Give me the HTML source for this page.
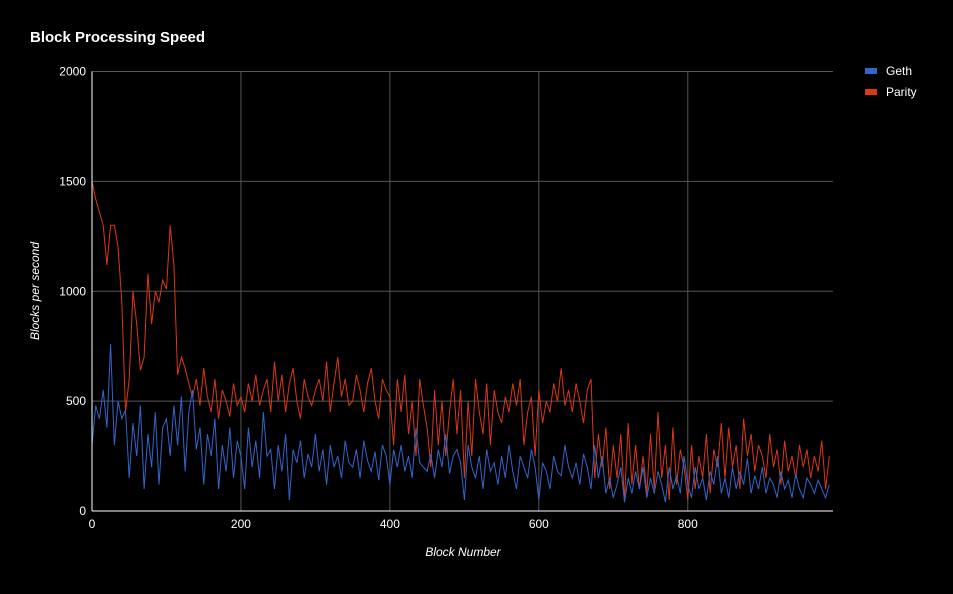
<!DOCTYPE html>
<html><head><meta charset="utf-8"><style>
html,body{margin:0;padding:0;background:#000;}
body{width:953px;height:589px;overflow:hidden;font-family:"Liberation Sans",sans-serif;}
</style></head><body>
<svg id="chart" width="953" height="589" xmlns="http://www.w3.org/2000/svg">
<rect width="953" height="589" fill="#000"/>
<text x="30" y="42" fill="#fff" font-size="15" font-weight="bold" font-family="Liberation Sans, sans-serif">Block Processing Speed</text>
<g id="grid"></g>
<g id="series"></g>
<g id="axes"></g>
<text x="463" y="556" fill="#fff" font-size="12" font-style="italic" text-anchor="middle">Block Number</text>
<text transform="translate(39,291) rotate(-90)" fill="#fff" font-size="12" font-style="italic" text-anchor="middle">Blocks per second</text>
<g><rect x="865" y="68" width="12" height="6" fill="#3366cc"/><text x="886" y="75" fill="#fff" font-size="12">Geth</text></g>
<g><rect x="865" y="89" width="12" height="6" fill="#dc3912"/><text x="886" y="96" fill="#fff" font-size="12">Parity</text></g>
</svg>
<script>
const xTicks=[0,200,400,600,800];
const yTicks=[0,500,1000,1500,2000];
const step=5;
const geth=[300,480,420,550,380,760,300,500,420,460,
150,400,250,480,100,350,200,450,120,380,
420,250,480,300,520,180,450,550,280,380,
120,350,250,420,100,300,180,380,150,320,
250,100,380,200,320,150,450,250,280,100,
300,180,350,50,280,220,320,150,260,200,
350,180,280,120,300,200,250,150,320,220,
200,280,150,320,230,180,270,140,300,250,
120,280,200,300,180,250,150,380,220,200,
180,260,150,280,200,350,170,250,280,220,
50,300,200,150,250,100,280,180,220,120,
250,150,300,180,100,250,200,150,280,200,
50,220,180,100,250,180,160,300,200,150,
220,120,260,200,100,300,150,250,80,150,
60,120,200,40,150,80,180,100,200,60,
150,80,180,120,40,200,100,160,80,250,
120,60,200,100,150,50,180,120,250,80,
150,60,200,100,180,120,240,80,160,100,
200,80,150,120,60,180,100,140,60,170,
100,60,150,120,80,140,100,60,120];
const parity=[1500,1420,1360,1300,1120,1300,1300,1200,950,450,
600,1000,850,640,700,1080,850,1000,950,1050,
1010,1300,1120,620,700,650,580,520,600,480,
650,520,450,600,420,550,500,430,580,480,
520,450,580,500,620,480,550,600,450,680,
500,620,450,580,650,500,420,600,520,480,
550,600,500,680,450,580,700,520,600,480,
500,620,550,450,580,650,500,420,600,550,
520,300,600,450,620,350,500,250,600,480,
380,200,550,300,500,250,450,600,350,550,
150,500,250,600,450,350,580,300,550,450,
400,520,450,580,480,600,300,450,520,250,
550,400,500,450,580,500,650,480,550,450,
580,500,400,550,600,150,350,200,380,100,
300,150,350,50,400,120,300,100,250,80,
350,100,450,150,300,50,380,120,280,200,
50,300,100,250,150,350,80,280,200,400,
150,380,200,300,100,420,250,350,180,300,
250,150,350,200,280,120,320,180,250,150,
300,200,280,150,250,180,320,100,250];
const L=92,R=833,T=71.5,B=511,XMAX=995,YMAX=2000;
const NS='http://www.w3.org/2000/svg';
function xs(v){return L+(v/XMAX)*(R-L);}
function ys(v){return B-(v/YMAX)*(B-T);}
const grid=document.getElementById('grid'),axes=document.getElementById('axes'),ser=document.getElementById('series');
yTicks.forEach(t=>{
 const l=document.createElementNS(NS,'line');
 
 
 l.setAttribute('x1',L);l.setAttribute('x2',R);l.setAttribute('y1',ys(t));l.setAttribute('y2',ys(t));
 l.setAttribute('stroke',t===0?'#fff':'#555');l.setAttribute('stroke-width','1');
 (t===0?axes:grid).appendChild(l);
 const tx=document.createElementNS(NS,'text');
 
 
 tx.setAttribute('x',L-6);tx.setAttribute('y',ys(t)+4);tx.setAttribute('fill','#fff');tx.setAttribute('font-size','12');tx.setAttribute('text-anchor','end');
 tx.textContent=t;axes.appendChild(tx);
});
xTicks.forEach(t=>{
 const l=document.createElementNS(NS,'line');
 
 
 l.setAttribute('x1',xs(t));l.setAttribute('x2',xs(t));l.setAttribute('y1',T);l.setAttribute('y2',B);
 l.setAttribute('stroke',t===0?'#fff':'#555');l.setAttribute('stroke-width','1');
 (t===0?axes:grid).appendChild(l);
 const tx=document.createElementNS(NS,'text');
 
 
 tx.setAttribute('x',xs(t));tx.setAttribute('y',B+17);tx.setAttribute('fill','#fff');tx.setAttribute('font-size','12');tx.setAttribute('text-anchor','middle');
 tx.textContent=t;axes.appendChild(tx);
});
function line(data,color,name){
 const p=document.createElementNS(NS,'polyline');
 
 
 p.setAttribute('points',data.map((v,i)=>xs(i*step).toFixed(1)+','+ys(v).toFixed(1)).join(' '));
 p.setAttribute('fill','none');p.setAttribute('stroke',color);p.setAttribute('stroke-width','1');
 ser.appendChild(p);
}
line(parity,'#dc3912','parity-line');
line(geth,'#3366cc','geth-line');
</script>
</body></html>
